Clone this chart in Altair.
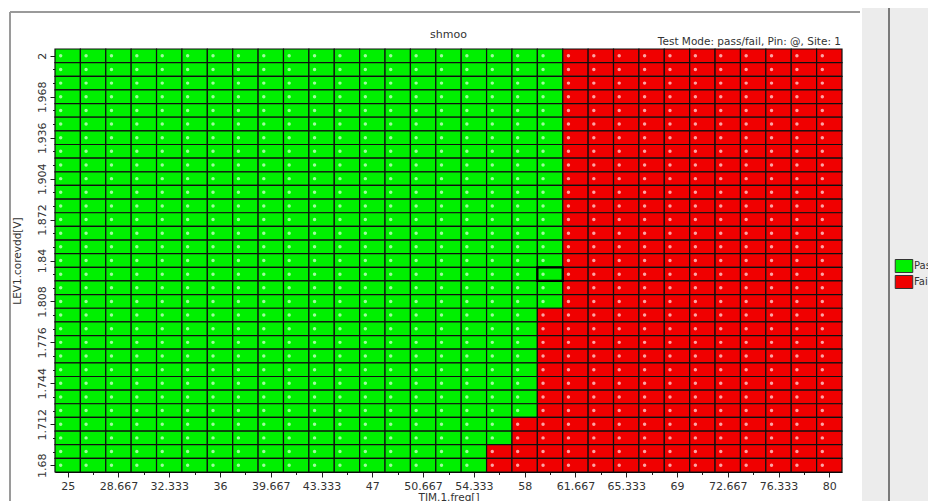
import json
import altair as alt
import pandas as pd

# ---- data ----
freqs = [25, 26.833, 28.667, 30.5, 32.333, 34.167, 36, 37.833, 39.667, 41.5,
         43.333, 45.167, 47, 48.833, 50.667, 52.5, 54.333, 56.167, 58, 59.833,
         61.667, 63.5, 65.333, 67.167, 69, 70.833, 72.667, 74.5, 76.333, 78.167, 80]
volts = [2, 1.98933, 1.97867, 1.968, 1.95733, 1.94667, 1.936, 1.92533, 1.91467,
         1.904, 1.89333, 1.88267, 1.872, 1.86133, 1.85067, 1.84, 1.82933, 1.81867,
         1.808, 1.79733, 1.78667, 1.776, 1.76533, 1.75467, 1.744, 1.73333, 1.72267,
         1.712, 1.70133, 1.69067, 1.68]
# number of passing frequency columns in each voltage row (top row first)
pass_counts = [20, 20, 20, 20, 20, 20, 20, 20, 20, 20, 20, 20, 20, 20, 20, 20,
               20, 20, 20, 19, 19, 19, 19, 19, 19, 19, 19, 18, 18, 17, 17]
x_tick_labels = [25, 28.667, 32.333, 36, 39.667, 43.333, 47, 50.667, 54.333,
                 58, 61.667, 65.333, 69, 72.667, 76.333, 80]
y_tick_labels = [2, 1.968, 1.936, 1.904, 1.872, 1.84, 1.808, 1.776, 1.744, 1.712, 1.68]
highlight_freq = 59.833
highlight_volt = 1.82933
status_names = ["Pass", "Fail"]
status_colors = ["#00f000", "#f00000"]

title_text = "shmoo"
subtitle_text = "Test Mode: pass/fail, Pin: @, Site: 1"
x_title = "TIM.1.freq[]"
y_title = "LEV1.corevdd[V]"

# ---- build table ----
hw = (freqs[1] - freqs[0]) / 2
hh = (volts[0] - volts[1]) / 2
rows = []
for vi, v in enumerate(volts):
    for fi, f in enumerate(freqs):
        rows.append({
            "freq": f, "volt": v,
            "x0": f - hw, "x1": f + hw, "y0": v - hh, "y1": v + hh,
            "status": "Pass" if fi < pass_counts[vi] else "Fail",
        })
df = pd.DataFrame(rows)
hl = pd.DataFrame([{"x0": highlight_freq - hw, "x1": highlight_freq + hw,
                    "y0": highlight_volt - hh, "y1": highlight_volt + hh}])

FONT = "DejaVu Sans"
xdom = [freqs[0] - hw, freqs[-1] + hw]
ydom = [volts[-1] - hh, volts[0] + hh]

xmaj = json.dumps(x_tick_labels)
ymaj = json.dumps(y_tick_labels)

x_axis = alt.Axis(
    values=freqs, title=x_title,
    labelExpr=f"indexof({xmaj}, datum.value) >= 0 ? '' + datum.value : ''",
    tickSize={"condition": {"test": f"indexof({xmaj}, datum.value) >= 0", "value": 5}, "value": 2.5},
    labelOverlap=False, labelFlush=False, grid=False,
    labelPadding=3, titlePadding=1,
)
y_axis = alt.Axis(
    values=volts, title=y_title,
    labelExpr=f"indexof({ymaj}, datum.value) >= 0 ? '' + datum.value : ''",
    tickSize={"condition": {"test": f"indexof({ymaj}, datum.value) >= 0", "value": 5}, "value": 2.5},
    labelOverlap=False, labelFlush=False, grid=False,
    labelAngle=270, labelAlign="center", labelBaseline="bottom",
    labelPadding=3, titlePadding=14,
)

xs = alt.Scale(domain=xdom, nice=False, zero=False)
ys = alt.Scale(domain=ydom, nice=False, zero=False)

one = alt.Data(values=[{"a": 1}])

panel = alt.Chart(one).mark_rect(color="#ececec").encode(
    x=alt.value(807), x2=alt.value(930), y=alt.value(-60), y2=alt.value(500))
panel_line = alt.Chart(one).mark_rule(color="#7a7a7a", strokeWidth=2).encode(
    x=alt.value(834), y=alt.value(-60), y2=alt.value(500))
frame_top = alt.Chart(one).mark_rule(color="#9a9a9a", strokeWidth=2).encode(
    x=alt.value(-45), x2=alt.value(805), y=alt.value(-37))
frame_left = alt.Chart(one).mark_rule(color="#9a9a9a", strokeWidth=2).encode(
    x=alt.value(-45), y=alt.value(-37), y2=alt.value(500))

cells = alt.Chart(df).mark_rect(stroke="#101010", strokeWidth=1.2).encode(
    x=alt.X("x0:Q", scale=xs, axis=x_axis),
    x2="x1:Q",
    y=alt.Y("y0:Q", scale=ys, axis=y_axis),
    y2="y1:Q",
    color=alt.Color("status:N",
                    scale=alt.Scale(domain=status_names, range=status_colors),
                    legend=alt.Legend(title=None, orient="none", legendX=842, legendY=210,
                                      symbolType="M-1.35,-1L1.35,-1L1.35,1L-1.35,1Z",
                                      symbolSize=169,
                                      symbolStrokeColor="#333", symbolStrokeWidth=1,
                                      symbolOpacity=1, labelFontSize=10, labelColor="#333",
                                      labelFont=FONT, rowPadding=-5, labelOffset=3)),
)

dots = alt.Chart(df).mark_circle(size=12, opacity=0.85, xOffset=-7).encode(
    x=alt.X("freq:Q", scale=xs, axis=x_axis),
    y=alt.Y("volt:Q", scale=ys, axis=y_axis),
    color=alt.condition(alt.datum.status == "Pass", alt.value("#b8ffb8"), alt.value("#ffc0c0")),
)

highlight = alt.Chart(hl).mark_rect(fillOpacity=0, stroke="#000", strokeWidth=2.2).encode(
    x=alt.X("x0:Q", scale=xs, axis=x_axis), x2="x1:Q",
    y=alt.Y("y0:Q", scale=ys, axis=y_axis), y2="y1:Q")

title = alt.Chart(one).mark_text(text=title_text, align="center", baseline="middle",
                                 font=FONT, fontSize=11, color="#333").encode(
    x=alt.value(393.5), y=alt.value(-14))

subtitle = alt.Chart(one).mark_text(text=subtitle_text, align="right", baseline="bottom",
                                    font=FONT, fontSize=10.5, color="#333").encode(
    x=alt.value(786), y=alt.value(-2))

chart = alt.layer(panel, panel_line, frame_top, frame_left, cells, dots, highlight,
                  title, subtitle).properties(
    width=787, height=423,
    autosize=alt.AutoSizeParams(type="none"),
    padding={"left": 47, "top": 41, "right": 86, "bottom": 30},
).configure_axis(
    labelFont=FONT, titleFont=FONT, labelFontSize=11, titleFontSize=10.5,
    labelColor="#333", titleColor="#333", titleFontWeight="normal",
    domainColor="#000", tickColor="#222", labelOverlap=False,
).configure_view(strokeWidth=0)

chart.save("out.html", embed_options={"renderer": "svg", "actions": False})
